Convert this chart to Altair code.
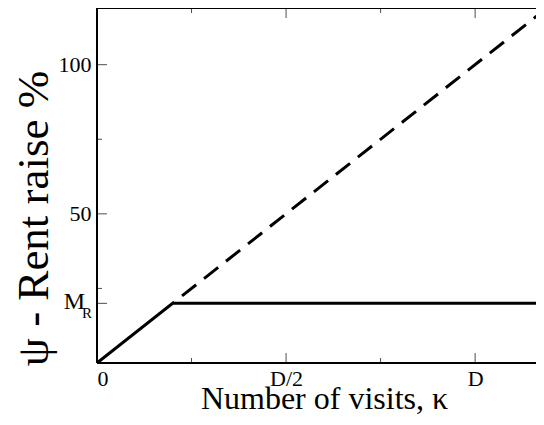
import altair as alt
import pandas as pd

# ---- data (x in units of D, y in %) ----
solid_x = [0.0, 0.2, 1.2]
solid_y = [0.0, 20.0, 20.0]
dash_x = [0.2, 1.2]
dash_y = [20.0, 120.0]

x_tick_major = [0.0, 0.5, 1.0]
x_tick_minor = [0.25, 0.75]
x_tick_labels = ["0", "D/2", "D"]
y_tick_major = [20.0, 50.0, 100.0]
y_tick_minor = [25.0, 75.0]
y_label_values = [50.0, 100.0]
mr_value = 20.0

X_MAX = 1.161
Y_MAX = 119.0
FONT = "Liberation Serif"

solid_df = pd.DataFrame({"x": solid_x, "y": solid_y})
dash_df = pd.DataFrame({"x": dash_x, "y": dash_y})

label_expr = " : ".join(
    f"datum.value == {v} ? '{t}'" for v, t in zip(x_tick_major, x_tick_labels)
) + " : ''"

xscale = alt.Scale(domain=[0, X_MAX], nice=False, zero=False)
yscale = alt.Scale(domain=[0, Y_MAX], nice=False, zero=False)

xaxis = alt.Axis(values=x_tick_major, labelExpr=label_expr, labelPadding=5,
                 labelFontSize=22, titleFontSize=32, titleBaseline="alphabetic",
                 titleY=45, titleX=227)
yaxis = alt.Axis(values=y_label_values, format="d", labelPadding=6,
                 labelFontSize=22, titleFontSize=45, titleBaseline="alphabetic",
                 titleX=-50, titleY=210, labelBaseline="middle")

XT = "Number of visits, \u03ba"
YT = "\u03c8 - Rent raise %"


def xe(f):
    return alt.X(f"{f}:Q", scale=xscale, axis=xaxis, title=XT)


def ye(f):
    return alt.Y(f"{f}:Q", scale=yscale, axis=yaxis, title=YT)


solid = alt.Chart(solid_df).mark_line(color="black", strokeWidth=3, clip=True).encode(
    x=xe("x"), y=ye("y"))
dashed = alt.Chart(dash_df).mark_line(color="black", strokeWidth=3, clip=True,
                                      strokeDash=[18, 10], strokeDashOffset=16).encode(
    x=xe("x"), y=ye("y"))

# frame: left, bottom, top (the right edge lies beyond the page)
frame_df = pd.DataFrame({
    "x1": [0.0, 0.0, 0.0], "x2": [0.0, X_MAX, X_MAX],
    "y1": [0.0, 0.0, Y_MAX], "y2": [Y_MAX, 0.0, Y_MAX],
})
frame = alt.Chart(frame_df).mark_rule(color="black", strokeWidth=2).encode(
    x=xe("x1"), x2="x2:Q", y=ye("y1"), y2="y2:Q")

# tick marks drawn inward (left, bottom, top)
yt_rows = [{"ex": 0.0, "ty": v, "len": 20} for v in y_tick_major] + \
          [{"ex": 0.0, "ty": v, "len": 10} for v in y_tick_minor]
xt_rows = []
for edge in [0.0, Y_MAX]:
    xt_rows += [{"tx": v, "ey": edge, "len": 20} for v in x_tick_major]
    xt_rows += [{"tx": v, "ey": edge, "len": 10} for v in x_tick_minor]

yticks = alt.Chart(pd.DataFrame(yt_rows)).mark_tick(
    orient="horizontal", clip=True, thickness=1, color="black").encode(
    x=xe("ex"), y=ye("ty"), size=alt.Size("len:Q", scale=None, legend=None))
xticks = alt.Chart(pd.DataFrame(xt_rows)).mark_tick(
    orient="vertical", clip=True, thickness=1, color="black").encode(
    x=xe("tx"), y=ye("ey"), size=alt.Size("len:Q", scale=None, legend=None))

mr_df = pd.DataFrame({"x": [0.0], "y": [mr_value]})
m_text = alt.Chart(mr_df).mark_text(text="M", font=FONT, fontSize=24, align="right",
                                    baseline="alphabetic", dx=-12, dy=6,
                                    color="black").encode(x=xe("x"), y=ye("y"))
r_text = alt.Chart(mr_df).mark_text(text="R", font=FONT, fontSize=15, align="right",
                                    baseline="alphabetic", dx=-5, dy=15,
                                    color="black").encode(x=xe("x"), y=ye("y"))

chart = alt.layer(solid, dashed, frame, yticks, xticks, m_text, r_text).properties(
    width=439, height=355,
    autosize=alt.AutoSizeParams(type="none"),
    padding={"left": 89, "top": 0, "right": 0, "bottom": 52},
    background="white",
).configure_view(stroke="transparent", strokeWidth=0).configure_axis(
    labelFont=FONT, titleFont=FONT, titleFontWeight="normal", labelColor="black",
    titleColor="black", ticks=False, domain=False, grid=False,
)

chart.save("out.html", embed_options={"renderer": "svg", "actions": False})
